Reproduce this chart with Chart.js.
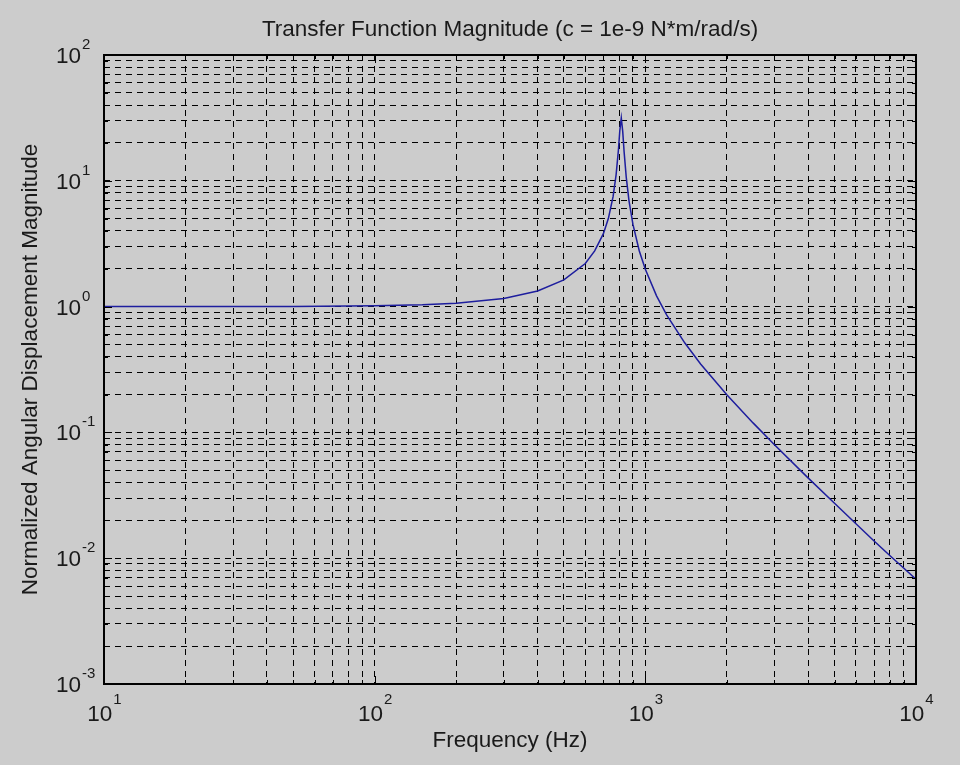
<!DOCTYPE html>
<html>
<head>
<meta charset="utf-8">
<title>Transfer Function Magnitude</title>
<script src="https://cdn.jsdelivr.net/npm/chart.js@4.4.1/dist/chart.umd.min.js"></script>
<style>
    html, body { margin: 0; padding: 0; background: #cccccc; }
</style>
</head>
<body>
<canvas id="tf-graph" width="960" height="765"></canvas>
<script>
// Values
const frequencyHz = [
    10, 20, 50, 100, 150, 200, 300, 400, 500, 600, 650, 700, 730, 760, 780,
    795, 805, 815, 825, 835, 850, 870, 900, 950, 1000, 1100, 1200, 1400,
    1600, 2000, 2500, 3000, 4000, 5000, 6000, 7000, 8000, 10000,
];
const magnitude = [
    1.0, 1.0006, 1.004, 1.015, 1.035, 1.064, 1.16, 1.33, 1.63, 2.2, 2.77,
    3.8, 5.01, 7.48, 11.2, 17.4, 25.2, 31.6, 24.7, 16.9, 10.7, 6.97, 4.5,
    2.77, 1.98, 1.217, 0.856, 0.513, 0.35, 0.199, 0.119, 0.0797, 0.0433,
    0.0273, 0.0188, 0.0137, 0.0105, 0.0068,
];

// Decades on each axis and their tick label exponents
const xDecades = [10, 100, 1000, 10000];
const xExponents = ["1", "2", "3", "4"];
const yDecades = [0.001, 0.01, 0.1, 1, 10, 100];
const yExponents = ["-3", "-2", "-1", "0", "1", "2"];

const titleText = "Transfer Function Magnitude (c = 1e-9 N*m/rad/s)";
const xLabel = "Frequency (Hz)";
const yLabel = "Normalized Angular Displacement Magnitude";

const fontFamily = "'Liberation Sans', Arial, sans-serif";
const fontSize = 22.5;
const textColor = "#1a1a1a";
const lineColor = "#1e1e9e";

// Grid at 1..9 x each decade (matlab log grid)
function logGrid(decades) {
    const vals = [];
    for (let i = 0; i < decades.length - 1; i++) {
        for (let k = 1; k < 10; k++) {
            vals.push(+(decades[i] * k).toPrecision(6));
        }
    }
    vals.push(decades[decades.length - 1]);
    return vals;
}
const xGrid = logGrid(xDecades);
const yGrid = logGrid(yDecades);

// Box, inner tick marks and 10^n labels
const matlabAxes = {
    id: "matlabAxes",
    afterLayout(chart) {
        // center the title over the axes, not the whole canvas
        const t = chart.titleBlock;
        if (t) {
            t.left = chart.chartArea.left;
            t.right = chart.chartArea.right;
            t.width = t.right - t.left;
        }
    },
    afterDraw(chart) {
        const { ctx, chartArea: a } = chart;
        const x = chart.scales.x;
        const y = chart.scales.y;
        ctx.save();

        ctx.strokeStyle = "#000";
        ctx.lineWidth = 1;
        ctx.beginPath();
        xGrid.forEach((v) => {
            const px = Math.round(x.getPixelForValue(v)) + 0.5;
            const len = xDecades.includes(v) ? 8 : 4;
            ctx.moveTo(px, a.bottom);
            ctx.lineTo(px, a.bottom - len);
            ctx.moveTo(px, a.top);
            ctx.lineTo(px, a.top + len);
        });
        yGrid.forEach((v) => {
            const py = Math.round(y.getPixelForValue(v)) + 0.5;
            const len = yDecades.includes(v) ? 8 : 4;
            ctx.moveTo(a.left, py);
            ctx.lineTo(a.left + len, py);
            ctx.moveTo(a.right, py);
            ctx.lineTo(a.right - len, py);
        });
        ctx.stroke();

        ctx.lineWidth = 2;
        ctx.strokeRect(a.left, a.top, a.right - a.left, a.bottom - a.top);

        const big = fontSize + "px " + fontFamily;
        const small = "15px " + fontFamily;
        ctx.fillStyle = textColor;
        ctx.textBaseline = "alphabetic";

        // x tick labels, whole label centred on the tick
        xDecades.forEach((v, i) => {
            const px = x.getPixelForValue(v);
            ctx.font = big;
            const w1 = ctx.measureText("10").width;
            ctx.font = small;
            const w2 = ctx.measureText(xExponents[i]).width;
            const start = px - (w1 + w2) / 2;
            ctx.textAlign = "left";
            ctx.font = big;
            ctx.fillText("10", start, a.bottom + 37);
            ctx.font = small;
            ctx.fillText(xExponents[i], start + w1 + 1, a.bottom + 20);
        });

        // y tick labels, "10" right aligned, exponent sticks out
        yDecades.forEach((v, i) => {
            const py = y.getPixelForValue(v);
            ctx.font = big;
            ctx.textAlign = "right";
            ctx.fillText("10", a.left - 23, py + 8);
            ctx.font = small;
            ctx.textAlign = "left";
            ctx.fillText(yExponents[i], a.left - 22, py - 6);
        });

        ctx.restore();
    },
};

const ctx = document.getElementById("tf-graph").getContext("2d");

const chart = new Chart(ctx, {
    type: "line",
    data: {
        datasets: [
            {
                label: "Magnitude",
                data: frequencyHz.map((f, i) => ({ x: f, y: magnitude[i] })),
                borderColor: lineColor,
                borderWidth: 1.5,
                pointRadius: 0,
                fill: false,
                tension: 0,
            },
        ],
    },
    options: {
        responsive: false,
        animation: false,
        devicePixelRatio: 1,
        layout: { padding: { left: 0, right: 44, top: 0, bottom: 0 } },
        plugins: {
            legend: { display: false },
            tooltip: { enabled: false },
            title: {
                display: true,
                text: titleText,
                color: textColor,
                font: { family: fontFamily, size: fontSize, weight: "normal" },
                padding: { top: 16, bottom: 12 },
            },
        },
        scales: {
            x: {
                type: "logarithmic",
                min: 10,
                max: 10000,
                afterBuildTicks: (axis) => {
                    axis.ticks = xGrid.map((v) => ({ value: v }));
                },
                afterFit: (axis) => {
                    axis.height = 81;
                },
                ticks: { display: false },
                grid: { color: "#000", lineWidth: 1, drawTicks: false },
                border: { display: false, dash: [6, 5] },
                title: {
                    display: true,
                    text: xLabel,
                    color: textColor,
                    font: { family: fontFamily, size: fontSize },
                    padding: { top: 0, bottom: 11 },
                },
            },
            y: {
                type: "logarithmic",
                min: 0.001,
                max: 100,
                afterBuildTicks: (axis) => {
                    axis.ticks = yGrid.map((v) => ({ value: v }));
                },
                afterFit: (axis) => {
                    axis.width = 104;
                },
                ticks: { display: false },
                grid: { color: "#000", lineWidth: 1, drawTicks: false },
                border: { display: false, dash: [6, 5] },
                title: {
                    display: true,
                    text: yLabel,
                    color: textColor,
                    font: { family: fontFamily, size: fontSize },
                    padding: { top: 17, bottom: 0 },
                },
            },
        },
    },
    plugins: [matlabAxes],
});
</script>
</body>
</html>
